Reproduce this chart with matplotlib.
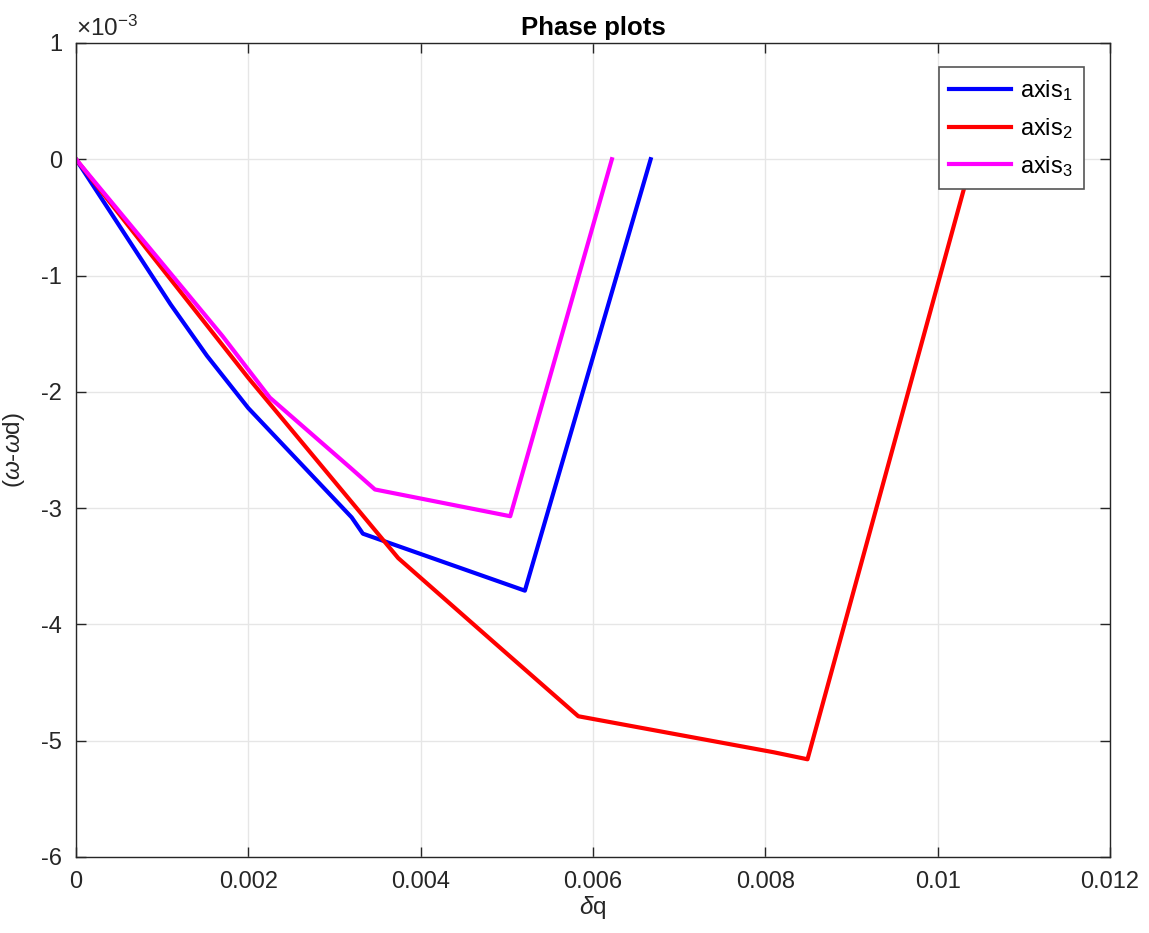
import matplotlib
matplotlib.use('Agg')
import matplotlib.pyplot as plt
from matplotlib.ticker import FuncFormatter

plt.rcParams['font.family'] = ['Liberation Sans', 'DejaVu Sans']
plt.rcParams['mathtext.fontset'] = 'custom'
plt.rcParams['mathtext.rm'] = 'Liberation Sans'
plt.rcParams['mathtext.it'] = 'Liberation Sans:italic'

# axis 1 (blue)
dq1 = [0, 0.0011, 0.00152, 0.0020, 0.0032, 0.00333, 0.00521, 0.00667]
w1 = [0, -1.25e-3, -1.69e-3, -2.14e-3, -3.08e-3, -3.22e-3, -3.71e-3, 0]
# axis 2 (red)
dq2 = [0, 0.0020, 0.00374, 0.00486, 0.00583, 0.0081, 0.00849, 0.0104]
w2 = [0, -1.88e-3, -3.43e-3, -4.16e-3, -4.79e-3, -5.10e-3, -5.16e-3, 0]
# axis 3 (magenta)
dq3 = [0, 0.0017, 0.00225, 0.00318, 0.00347, 0.00504, 0.00622]
w3 = [0, -1.52e-3, -2.05e-3, -2.65e-3, -2.84e-3, -3.07e-3, 0]

fig = plt.figure(figsize=(11.49, 9.33), dpi=100)
ax = fig.add_axes([0.0661, 0.0815, 0.8999, 0.8725])

ax.plot(dq1, w1, color='#0000ff', lw=3, label='axis$_1$')
ax.plot(dq2, w2, color='#ff0000', lw=3, label='axis$_2$')
ax.plot(dq3, w3, color='#ff00ff', lw=3, label='axis$_3$')

ax.set_xlim(0, 0.012)
ax.set_ylim(-6e-3, 1e-3)
ax.set_xticks([0, 0.002, 0.004, 0.006, 0.008, 0.01, 0.012])
ax.set_xticklabels(['0', '0.002', '0.004', '0.006', '0.008', '0.01', '0.012'])
ax.set_yticks([i * 1e-3 for i in range(-6, 2)])
ax.yaxis.set_major_formatter(FuncFormatter(lambda v, p: '%d' % round(v * 1e3)))

ax.grid(True, color='#e6e6e6', lw=1)
ax.set_axisbelow(True)
ax.tick_params(direction='in', length=7, width=1, colors='#262626',
               labelsize=17, top=True, right=True, pad=10)
for s in ax.spines.values():
    s.set_color('#262626')
    s.set_linewidth(1)

ax.text(0.0, 1.003, r'$\times$10$^{-3}$', transform=ax.transAxes,
        fontsize=17.5, color='#262626', ha='left', va='bottom')
ax.set_title('Phase plots', fontsize=18.5, fontweight='bold', pad=6)
ax.set_xlabel(r'$\delta$q', fontsize=17.5, color='#262626', labelpad=1)
ax.set_ylabel(r'($\omega$-$\omega$d)', fontsize=17.5, color='#262626', labelpad=10)

leg = ax.legend(loc='upper right', bbox_to_anchor=(0.9745, 0.97), fontsize=17,
                fancybox=False, framealpha=1, edgecolor='#555555',
                handlelength=2.6, handletextpad=0.4, borderpad=0.45,
                labelspacing=0.55, borderaxespad=0)
leg.get_frame().set_linewidth(1.2)

fig.savefig('out.png', dpi=100)
